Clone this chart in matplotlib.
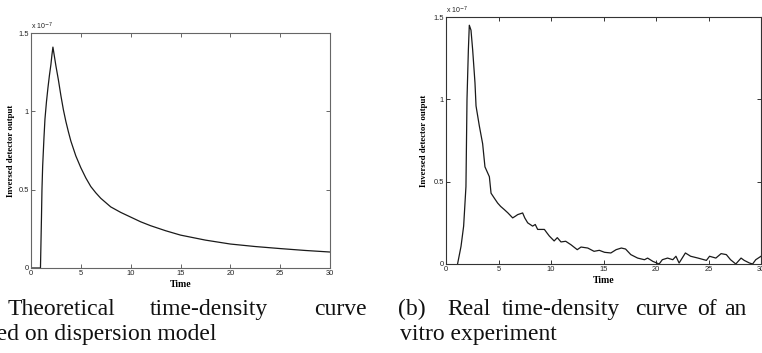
import matplotlib
matplotlib.use("Agg")
import matplotlib.pyplot as plt

# (a) theoretical time-density curve, output in units of 1e-7
theory_time = [0.0, 0.95, 1.0, 1.05, 1.1, 1.17, 1.3, 1.4, 1.55, 1.7, 1.85, 2.0, 2.1, 2.2,
               2.35, 2.5, 2.75, 3.0, 3.25, 3.5, 3.75, 4.0, 4.5, 5.0, 5.5, 6.0, 6.5, 7.0,
               8.0, 9.0, 10.0, 11.0, 12.0, 13.5, 15.0, 17.5, 20.0, 22.5, 25.0, 27.5, 30.0]
theory_output = [0.0, 0.0, 0.16, 0.32, 0.5, 0.65, 0.83, 0.95, 1.06, 1.15, 1.23, 1.3, 1.36, 1.41,
                 1.35, 1.29, 1.2, 1.1, 1.01, 0.935, 0.87, 0.81, 0.715, 0.64, 0.575, 0.52, 0.48,
                 0.445, 0.39, 0.355, 0.325, 0.295, 0.27, 0.238, 0.21, 0.178, 0.153, 0.137, 0.124,
                 0.112, 0.102]

# (b) measured in vitro time-density curve, output in units of 1e-7
real_time = [1.1, 1.43, 1.68, 1.9, 2.0, 2.13, 2.22, 2.38, 2.54, 2.76, 2.86, 3.17, 3.49,
             3.71, 4.13, 4.29, 4.6, 4.92, 5.2, 5.56, 5.9, 6.35, 6.6, 6.83, 7.3, 7.5,
             7.78, 8.25, 8.5, 8.73, 9.0, 9.37, 9.6, 9.84, 10.3, 10.6, 10.95, 11.4,
             11.9, 12.5, 12.86, 13.5, 14.1, 14.6, 15.1, 15.7, 16.2, 16.7, 17.1,
             17.6, 18.25, 18.9, 19.2, 19.7, 20.3, 20.6, 21.1, 21.6, 21.9, 22.2,
             22.8, 23.3, 24.0, 24.8, 25.1, 25.7, 26.2, 26.7, 27.1, 27.6, 28.1,
             28.4, 28.9, 29.2, 29.5, 30.0]
real_output = [0.0, 0.107, 0.23, 0.47, 1.0, 1.3, 1.45, 1.42, 1.3, 1.1, 0.96, 0.84, 0.73,
               0.59, 0.53, 0.43, 0.40, 0.37, 0.35, 0.33, 0.31, 0.28, 0.29, 0.30, 0.31, 0.28,
               0.25, 0.23, 0.24, 0.21, 0.21, 0.21, 0.19, 0.17, 0.14, 0.16, 0.134, 0.138,
               0.117, 0.087, 0.103, 0.097, 0.077, 0.083, 0.071, 0.067, 0.087, 0.097, 0.091,
               0.057, 0.036, 0.026, 0.036, 0.016, 0.0, 0.026, 0.036, 0.026, 0.047, 0.006,
               0.067, 0.047, 0.036, 0.022, 0.047, 0.036, 0.063, 0.057, 0.026, 0.0, 0.036,
               0.022, 0.006, 0.0, 0.026, 0.047]

x_ticks = [0, 5, 10, 15, 20, 25, 30]
y_ticks = [0, 0.5, 1, 1.5]
y_tick_labels = ["0", "0.5", "1", "1.5"]

W, H = 762, 353
fig = plt.figure(figsize=(W / 100, H / 100), dpi=100)

def panel(rect, t, v, frame_color, line_color, ylabel_pad):
    ax = fig.add_axes(rect)
    ax.plot(t, v, color=line_color, lw=0.9)
    ax.set_xlim(0, 30)
    ax.set_ylim(0, 1.5)
    ax.set_xticks(x_ticks)
    ax.set_yticks(y_ticks)
    ax.set_yticklabels(y_tick_labels)
    ax.tick_params(direction="in", length=3, width=0.7, color=frame_color,
                   top=True, right=True, labelsize=5.4, pad=1.5)
    for lab in ax.get_xticklabels() + ax.get_yticklabels():
        lab.set_family("Liberation Sans")
        lab.set_color("#222222")
    for s in ax.spines.values():
        s.set_color(frame_color)
        s.set_linewidth(0.8)
    ax.set_xlabel("Time", family="Liberation Serif", weight="bold", fontsize=7, labelpad=2)
    ax.set_ylabel("Inversed detector output", family="Liberation Serif", weight="bold",
                  fontsize=6.3, labelpad=ylabel_pad)
    ax.text(0.0, 1.004, r"x 10$^{-7}$", transform=ax.transAxes, fontsize=5,
            family="Liberation Sans", ha="left", va="bottom", color="#222222")
    return ax

def frac(x0, y0, x1, y1):
    return [x0 / W, 1 - y1 / H, (x1 - x0) / W, (y1 - y0) / H]

panel(frac(31, 33, 330, 268), theory_time, theory_output, "#666666", "#1a1a1a", 2.5)
panel(frac(446, 17, 761, 264), real_time, real_output, "#333333", "#1a1a1a", 4)

# Captions, justified word by word
cap = dict(family="Liberation Serif", fontsize=17, color="#111111", va="baseline", ha="left")
line1_a = [("(a)", -40), ("Theoretical", 8), ("time-density", 150), ("curve", 314)]
line2_a = [("based on dispersion model", -35)]
line1_b = [("(b)", 398), ("Real", 447), ("time-density", 502), ("curve", 635), ("of", 697), ("an", 724)]
line2_b = [("vitro experiment", 400)]
for words, y in [(line1_a, 315), (line2_a, 340), (line1_b, 315), (line2_b, 340)]:
    for w, x in words:
        fig.text(x / W, 1 - y / H, w, **cap)

fig.savefig("out.png", dpi=100)
